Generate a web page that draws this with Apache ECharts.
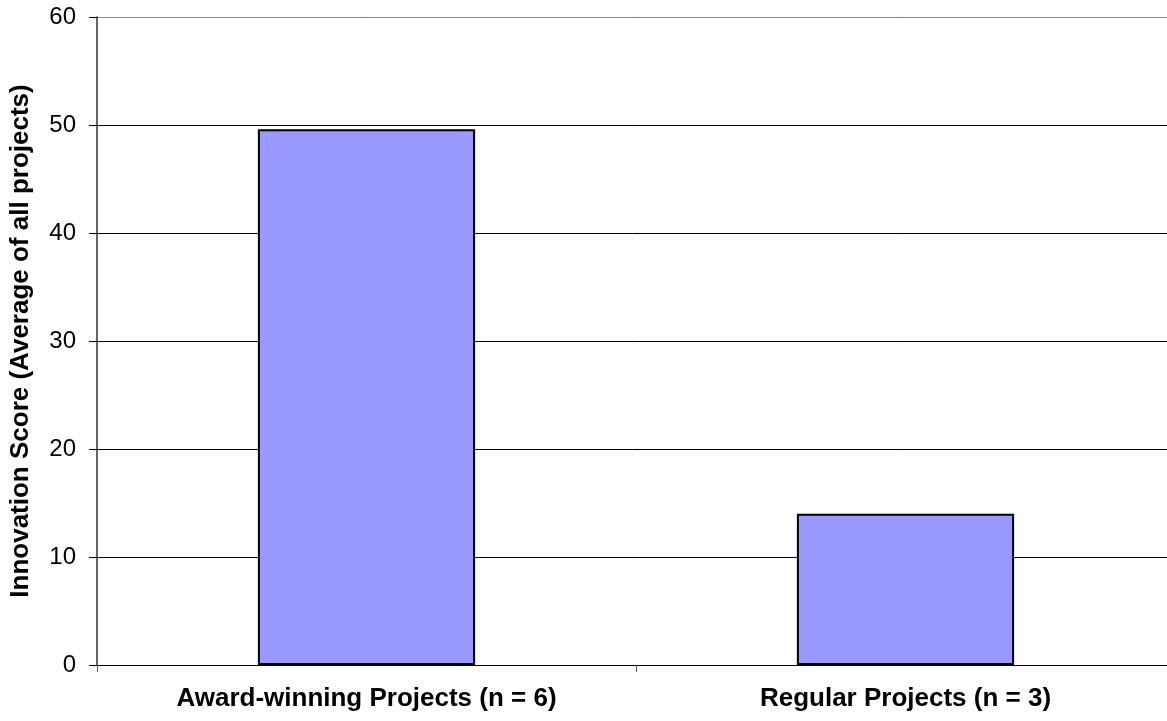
<!DOCTYPE html>
<html>
<head>
<meta charset="utf-8">
<script src="https://cdn.jsdelivr.net/npm/echarts@6/dist/echarts.min.js"></script>
<style>
  html, body { margin: 0; padding: 0; background: #ffffff; }
  #chart { width: 1167px; height: 721px; }
</style>
</head>
<body>
<div id="chart"></div>
<script>
// Average innovation score by project group
const categories = ['Award-winning Projects (n = 6)', 'Regular Projects (n = 3)'];
const scores = [49.6, 14.0];
const yTicks = { min: 0, max: 60, interval: 10 };
const yAxisTitle = 'Innovation Score (Average of all projects)';

const chart = echarts.init(document.getElementById('chart'), null, { renderer: 'canvas' });

chart.setOption({
  animation: false,
  backgroundColor: '#ffffff',
  textStyle: { fontFamily: 'Liberation Sans, Arial, sans-serif' },
  // plot area runs slightly past the right edge of the canvas
  grid: {
    left: 97, width: 1078, top: 17, bottom: 56,
    containLabel: false,
    outerBoundsMode: 'none'
  },
  xAxis: {
    type: 'category',
    data: categories,
    boundaryGap: true,
    axisLine: { show: true, lineStyle: { color: '#000000', width: 1 } },
    axisTick: { show: true, length: 7, alignWithLabel: false, lineStyle: { color: '#555555' } },
    axisLabel: {
      margin: 21,
      color: '#000000',
      fontSize: 26,
      fontWeight: 'bold',
      fontFamily: 'Liberation Sans, Arial, sans-serif',
      interval: 0
    },
    splitLine: { show: false }
  },
  yAxis: {
    type: 'value',
    min: yTicks.min,
    max: yTicks.max,
    interval: yTicks.interval,
    name: yAxisTitle,
    nameLocation: 'middle',
    nameGap: 63,
    nameRotate: 90,
    nameTextStyle: {
      color: '#000000',
      fontSize: 26,
      fontWeight: 'bold',
      fontFamily: 'Liberation Sans, Arial, sans-serif'
    },
    axisLine: { show: true, lineStyle: { color: '#333333', width: 1.5 } },
    axisTick: { show: true, length: 8, lineStyle: { color: '#000000' } },
    axisLabel: {
      margin: 21,
      color: '#000000',
      fontSize: 24,
      fontFamily: 'Liberation Sans, Arial, sans-serif'
    },
    splitLine: {
      show: true,
      lineStyle: {
        color: ['#000000', '#000000', '#000000', '#000000', '#000000', '#000000', '#888888'],
        width: 1
      }
    }
  },
  series: [{
    type: 'bar',
    data: scores,
    barWidth: '40.3%',
    itemStyle: {
      color: '#9999ff',
      borderColor: '#000000',
      borderWidth: 2
    },
    label: { show: false }
  }]
});
</script>
</body>
</html>
